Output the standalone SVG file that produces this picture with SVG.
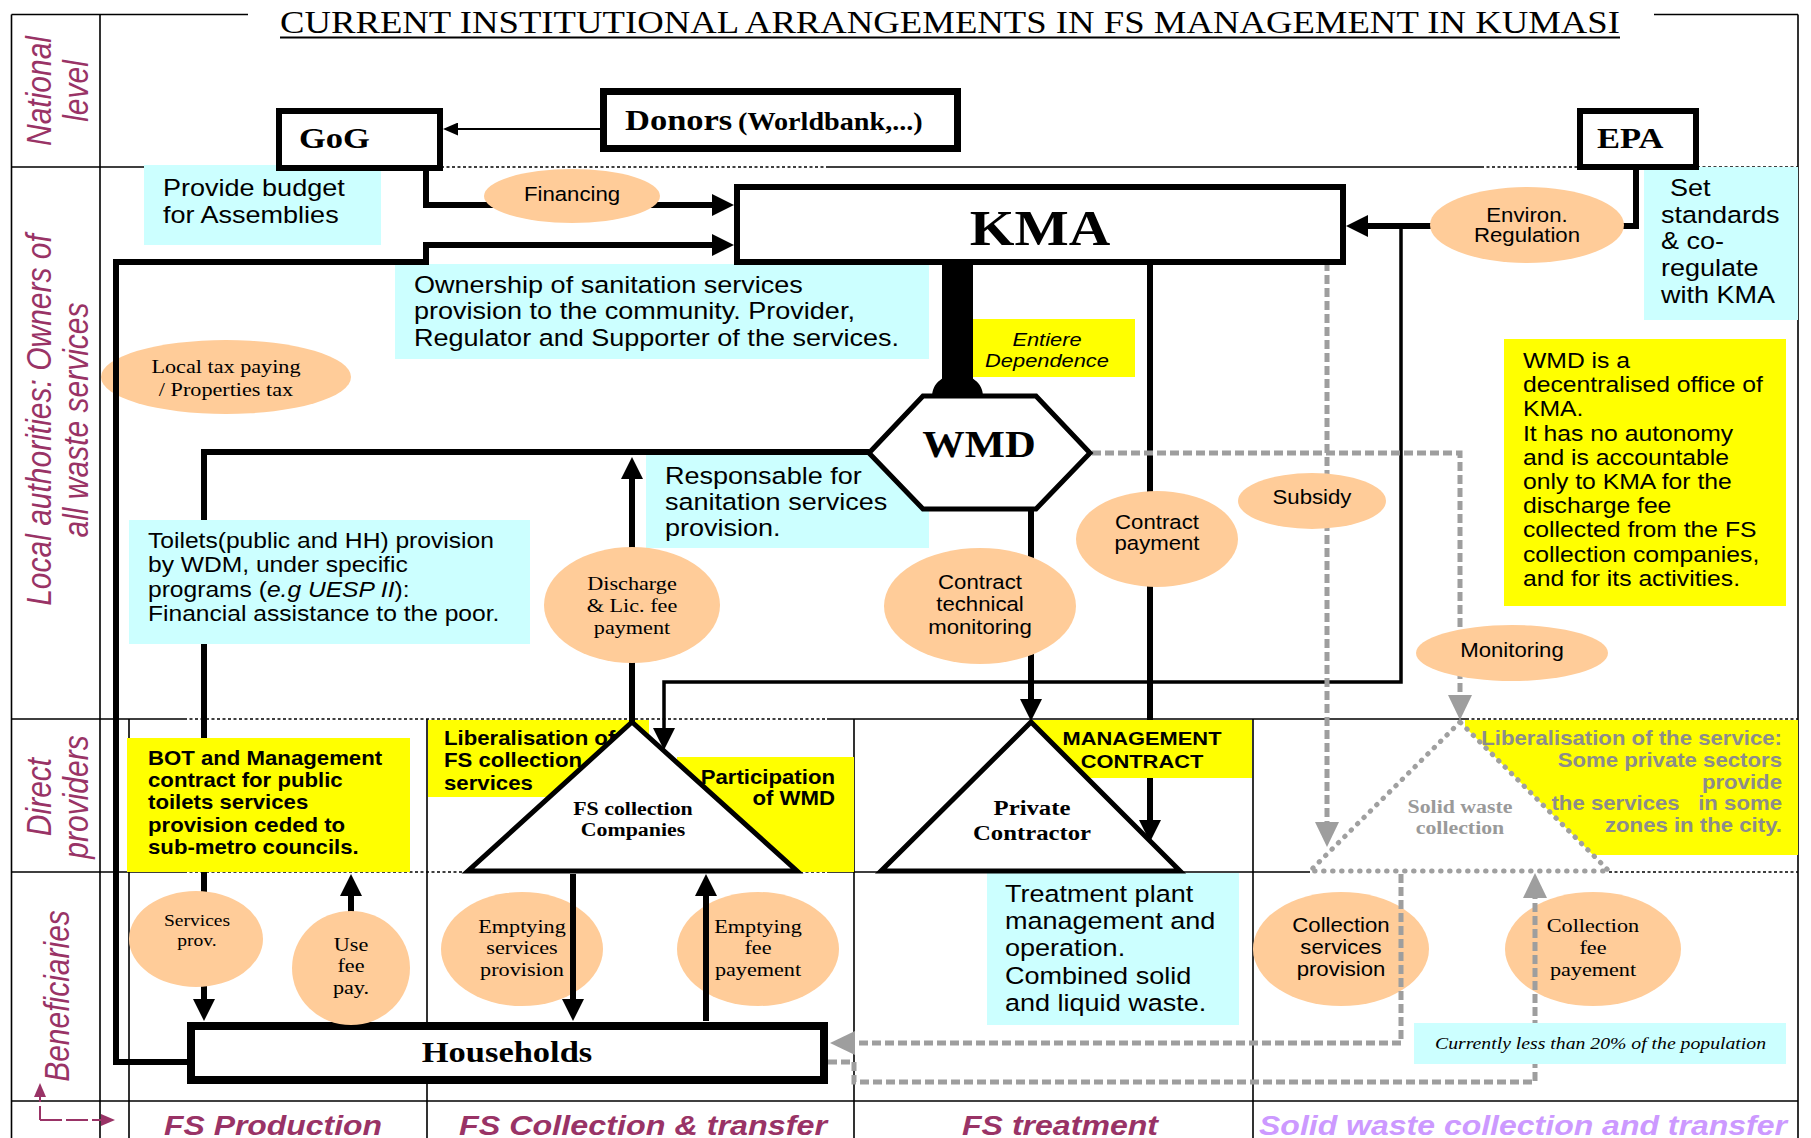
<svg xmlns="http://www.w3.org/2000/svg" width="1811" height="1138" viewBox="0 0 1811 1138">
<defs>
<style>
.gl{fill:none;stroke:#000;stroke-width:1.6}
.gd{fill:none;stroke:#000;stroke-width:1.6;stroke-dasharray:3 2.5}
.cy{fill:#CCFFFF}
.ye{fill:#FFFF00}
.el{fill:#FFCC99}
.nd{fill:#fff;stroke:#000}
.k{fill:none;stroke:#000;stroke-width:6}
.kg{fill:none;stroke:#9E9E9E;stroke-width:5;stroke-dasharray:9 4}
.s{font-family:"Liberation Sans",Arial,sans-serif;fill:#000}
.r{font-family:"Liberation Serif","Times New Roman",serif;fill:#000}
.b{font-weight:bold}
.i{font-style:italic}
.p{font-size:23.5px}
.e{font-size:19.3px}
.bt{font-size:19.3px;font-weight:bold}
.lbl{font-family:"Liberation Sans",Arial,sans-serif;font-style:italic;font-size:30px;fill:#993366}
.col{font-family:"Liberation Sans",Arial,sans-serif;font-style:italic;font-weight:bold;font-size:27px}
</style>
<marker id="ah" viewBox="0 0 22 22" refX="1" refY="11" markerWidth="22" markerHeight="22" markerUnits="userSpaceOnUse" orient="auto"><path d="M0,0 L22,11 L0,22 Z" fill="#000"/></marker>
<marker id="ahs" viewBox="0 0 15 13" refX="1" refY="6.5" markerWidth="15" markerHeight="13" markerUnits="userSpaceOnUse" orient="auto"><path d="M0,0 L15,6.5 L0,13 Z" fill="#000"/></marker>
<marker id="ahg" viewBox="0 0 25 24" refX="1" refY="12" markerWidth="25" markerHeight="24" markerUnits="userSpaceOnUse" orient="auto"><path d="M0,0 L25,12 L0,24 Z" fill="#9E9E9E"/></marker>
<marker id="ahp" viewBox="0 0 14 12" refX="1" refY="6" markerWidth="14" markerHeight="12" markerUnits="userSpaceOnUse" orient="auto"><path d="M0,0 L14,6 L0,12 Z" fill="#993366"/></marker>
</defs>
<rect x="0" y="0" width="1811" height="1138" fill="#fff"/>

<g id="grid">
<path class="gl" d="M11.5,14.5 H248 M1654,14.5 H1798 M11.5,14.5 V1138 M100,14.5 V1138 M1798,14.5 V1138"/>
<path class="gl" d="M11.5,167 H280 M827,167 H1481"/>
<path class="gd" d="M441,167 H827 M1481,167 H1580 M1697,167 H1798"/>
<path class="gl" d="M11.5,719 H184 M827,719 H1466"/>
<path class="gd" d="M184,719 H827 M1466,719 H1798"/>
<path class="gl" d="M11.5,872 H184 M827,872 H1310"/>
<path class="gd" d="M184,872 H827 M1609,872 H1798"/>
<path class="gl" d="M11.5,1101 H1798"/>
<path class="gl" d="M129,719 V1138 M427,719 V1138 M854,719 V1138 M1253,719 V1138"/>
</g>

<g id="title">
<text class="r" x="280" y="33" font-size="32" textLength="1340" lengthAdjust="spacingAndGlyphs">CURRENT INSTITUTIONAL ARRANGEMENTS IN FS MANAGEMENT IN KUMASI</text>
<path d="M280,37.5 H1620" stroke="#000" stroke-width="1.8"/>
</g>

<g id="row-labels">
<text class="lbl" text-anchor="middle" transform="translate(51,91) scale(1.15,1) rotate(-90)"><tspan x="0">National</tspan><tspan x="0" dy="32">level</tspan></text>
<text class="lbl" text-anchor="middle" transform="translate(51,420) scale(1.15,1) rotate(-90)"><tspan x="0">Local authorities: Owners of</tspan><tspan x="0" dy="32">all waste services</tspan></text>
<text class="lbl" text-anchor="middle" transform="translate(51,797) scale(1.15,1) rotate(-90)"><tspan x="0">Direct</tspan><tspan x="0" dy="32">providers</tspan></text>
<text class="lbl" text-anchor="middle" transform="translate(69,996) scale(1.15,1) rotate(-90)">Beneficiaries</text>
<path d="M40,1120 V1096" fill="none" stroke="#993366" stroke-width="2" stroke-dasharray="14 4" marker-end="url(#ahp)"/>
<path d="M40,1120 H102" fill="none" stroke="#993366" stroke-width="2" stroke-dasharray="22 4" marker-end="url(#ahp)"/>
</g>

<g id="col-labels">
<text class="col" x="164" y="1135" fill="#993366" textLength="218" lengthAdjust="spacingAndGlyphs">FS Production</text>
<text class="col" x="459" y="1135" fill="#993366" textLength="368" lengthAdjust="spacingAndGlyphs">FS Collection &amp; transfer</text>
<text class="col" x="962" y="1135" fill="#993366" textLength="196" lengthAdjust="spacingAndGlyphs">FS treatment</text>
<text class="col" x="1259" y="1135" fill="#CC99FF" textLength="528" lengthAdjust="spacingAndGlyphs">Solid waste collection and transfer</text>
</g>

<g id="note-budget">
<rect class="cy" x="144" y="165" width="237" height="80"/>
<text class="s p" transform="translate(163,196) scale(1.15,1)"><tspan x="0">Provide budget</tspan><tspan x="0" dy="26.7">for Assemblies</tspan></text>
</g>
<g id="note-ownership">
<rect class="cy" x="395" y="264" width="534" height="95"/>
<text class="s p" transform="translate(414,293) scale(1.15,1)"><tspan x="0">Ownership of sanitation services</tspan><tspan x="0" dy="26.5">provision to the community. Provider,</tspan><tspan x="0" dy="26.5">Regulator and Supporter of the services.</tspan></text>
</g>
<g id="note-responsable">
<rect class="cy" x="646" y="455" width="283" height="93"/>
<text class="s p" transform="translate(665,484) scale(1.15,1)"><tspan x="0">Responsable for</tspan><tspan x="0" dy="26">sanitation services</tspan><tspan x="0" dy="26">provision.</tspan></text>
</g>
<g id="note-standards">
<rect class="cy" x="1644" y="167" width="154" height="153"/>
<text class="s p" transform="translate(1661,196) scale(1.15,1)"><tspan x="7.8">Set</tspan><tspan x="0" dy="26.7">standards</tspan><tspan x="0" dy="26.7">&amp; co-</tspan><tspan x="0" dy="26.7">regulate</tspan><tspan x="0" dy="26.7">with KMA</tspan></text>
</g>
<g id="note-treatment">
<rect class="cy" x="987" y="873" width="252" height="152"/>
<text class="s p" transform="translate(1005,902) scale(1.15,1)"><tspan x="0">Treatment plant</tspan><tspan x="0" dy="27.2">management and</tspan><tspan x="0" dy="27.2">operation.</tspan><tspan x="0" dy="27.2">Combined solid</tspan><tspan x="0" dy="27.2">and liquid waste.</tspan></text>
</g>
<g id="note-dependence">
<rect class="ye" x="973" y="319" width="162" height="58"/>
<text class="s i" font-size="19" text-anchor="middle" transform="translate(1047,346) scale(1.15,1)"><tspan x="0">Entiere</tspan><tspan x="0" dy="21">Dependence</tspan></text>
</g>
<g id="note-wmd">
<rect class="ye" x="1504" y="339" width="282" height="267"/>
<text class="s" font-size="21.5" transform="translate(1523,368) scale(1.15,1)"><tspan x="0">WMD is a</tspan><tspan x="0" dy="24.2">decentralised office of</tspan><tspan x="0" dy="24.2">KMA.</tspan><tspan x="0" dy="24.2">It has no autonomy</tspan><tspan x="0" dy="24.2">and is accountable</tspan><tspan x="0" dy="24.2">only to KMA for the</tspan><tspan x="0" dy="24.2">discharge fee</tspan><tspan x="0" dy="24.2">collected from the FS</tspan><tspan x="0" dy="24.2">collection companies,</tspan><tspan x="0" dy="24.2">and for its activities.</tspan></text>
</g>
<g id="note-liberalisation-fs">
<rect class="ye" x="428" y="720" width="221" height="77"/>
<text class="s bt" transform="translate(444,745) scale(1.15,1)"><tspan x="0">Liberalisation of</tspan><tspan x="0" dy="22.5">FS collection</tspan><tspan x="0" dy="22.5">services</tspan></text>
</g>
<g id="note-participation">
<rect class="ye" x="677" y="757" width="177" height="115"/>
<text class="s bt" text-anchor="end" transform="translate(835,784) scale(1.15,1)"><tspan x="0">Participation</tspan><tspan x="0" dy="21">of WMD</tspan></text>
</g>
<g id="note-management">
<rect class="ye" x="1032" y="720" width="220" height="58"/>
<text class="s b" font-size="19" text-anchor="middle" transform="translate(1142,745) scale(1.15,1)"><tspan x="0">MANAGEMENT</tspan><tspan x="0" dy="23">CONTRACT</tspan></text>
</g>
<g id="note-liberalisation-sw">
<rect class="ye" x="1465" y="720" width="333" height="135"/>
<text class="s bt" text-anchor="end" fill="#8C8C8C" style="white-space:pre" xml:space="preserve" transform="translate(1782,745) scale(1.15,1)"><tspan x="0" fill="#8C8C8C">Liberalisation of the service:</tspan><tspan x="0" dy="21.8" fill="#8C8C8C">Some private sectors</tspan><tspan x="0" dy="21.8" fill="#8C8C8C">provide</tspan><tspan x="0" dy="21.8" fill="#8C8C8C">the services   in some</tspan><tspan x="0" dy="21.8" fill="#8C8C8C">zones in the city.</tspan></text>
</g>

<g id="fs-collection-companies">
<polygon points="632,722 468,871 797,871" fill="#fff" stroke="#000" stroke-width="5" stroke-linejoin="miter"/>
<text class="r b" font-size="19" text-anchor="middle" transform="translate(633,815) scale(1.15,1)"><tspan x="0">FS collection</tspan><tspan x="0" dy="21">Companies</tspan></text>
</g>
<g id="private-contractor">
<polygon points="1031,722 881,871 1180,871" fill="#fff" stroke="#000" stroke-width="5"/>
<text class="r b" font-size="21.5" text-anchor="middle" transform="translate(1032,815) scale(1.15,1)"><tspan x="0">Private</tspan><tspan x="0" dy="25">Contractor</tspan></text>
</g>
<g id="solid-waste-collection">
<polygon points="1460,722 1310,871 1609,871" fill="#fff" stroke="#A0A0A0" stroke-width="5" stroke-linecap="round" stroke-dasharray="0.5 8.5"/>
<text class="r b" font-size="19" text-anchor="middle" fill="#9A9A9A" transform="translate(1460,813) scale(1.15,1)"><tspan x="0" fill="#9A9A9A">Solid waste</tspan><tspan x="0" dy="21" fill="#9A9A9A">collection</tspan></text>
</g>

<g id="lbl-local-tax">
<ellipse class="el" cx="226" cy="377" rx="125" ry="37"/>
<text class="r e" text-anchor="middle" transform="translate(226,373) scale(1.15,1)"><tspan x="0">Local tax paying</tspan><tspan x="0" dy="23">/ Properties tax</tspan></text>
</g>
<g id="lbl-emptying-services">
<ellipse class="el" cx="522" cy="949" rx="81" ry="57"/>
<text class="r e" text-anchor="middle" transform="translate(522,933) scale(1.15,1)"><tspan x="0">Emptying</tspan><tspan x="0" dy="21.5">services</tspan><tspan x="0" dy="21.5">provision</tspan></text>
</g>
<g id="lbl-emptying-fee">
<ellipse class="el" cx="758" cy="949" rx="81" ry="57"/>
<text class="r e" text-anchor="middle" transform="translate(758,933) scale(1.15,1)"><tspan x="0">Emptying</tspan><tspan x="0" dy="21.5">fee</tspan><tspan x="0" dy="21.5">payement</tspan></text>
</g>
<g id="lbl-collection-services">
<ellipse class="el" cx="1341" cy="949" rx="88" ry="57"/>
<text class="s e" text-anchor="middle" transform="translate(1341,932) scale(1.15,1)"><tspan x="0">Collection</tspan><tspan x="0" dy="22">services</tspan><tspan x="0" dy="22">provision</tspan></text>
</g>
<g id="lbl-collection-fee">
<ellipse class="el" cx="1593" cy="949" rx="88" ry="57"/>
<text class="r e" text-anchor="middle" transform="translate(1593,932) scale(1.15,1)"><tspan x="0">Collection</tspan><tspan x="0" dy="22">fee</tspan><tspan x="0" dy="22">payement</tspan></text>
</g>

<g id="connectors">
<path d="M603,129 H457" fill="none" stroke="#000" stroke-width="2" marker-end="url(#ahs)"/>
<path class="k" d="M426,168 V205 H713" marker-end="url(#ah)"/>
<path class="k" d="M191,1062 H116 V262 H426 V245 H713" marker-end="url(#ah)"/>
<path class="k" d="M1636,167 V226 H1367" marker-end="url(#ah)"/>
<path d="M1401,226 V682 H664 V729" fill="none" stroke="#000" stroke-width="3.5" marker-end="url(#ah)"/>
<rect x="942" y="262" width="31" height="122" fill="#000"/>
<path d="M932,397 C932,382 944,375 957.5,375 C971,375 983,382 983,397 Z" fill="#000"/>
<path class="k" d="M869,452 H204 V1000" marker-end="url(#ah)"/>
<path class="k" d="M632,722 V478" marker-end="url(#ah)"/>
<path class="k" stroke-width="5" d="M1031,509 V700" marker-end="url(#ah)"/>
<path class="k" stroke-width="7" d="M1150,262 V720 M1150,778 V821" marker-end="url(#ah)"/>
<path class="k" stroke-width="5" d="M573,874 V1000" marker-end="url(#ah)"/>
<path class="k" stroke-width="5" d="M706,1021 V895" marker-end="url(#ah)"/>
<path class="k" stroke-width="5" d="M351,1021 V895" marker-end="url(#ah)"/>
<path class="kg" stroke-width="4.5" d="M1327,262 V823" marker-end="url(#ahg)"/>
<path class="kg" stroke-width="6" stroke-dasharray="8 4" d="M1092,453 H1460 V696" marker-end="url(#ahg)"/>
<path class="kg" d="M1401,874 V1043 H854" marker-end="url(#ahg)"/>
<path class="kg" d="M828,1062 H854 V1082 H1535 V897" marker-end="url(#ahg)"/>
</g>

<g id="note-toilets">
<rect class="cy" x="129" y="520" width="401" height="124"/>
<text class="s" font-size="21.4" transform="translate(148,548) scale(1.15,1)"><tspan x="0">Toilets(public and HH) provision</tspan><tspan x="0" dy="24.5">by WDM, under specific</tspan><tspan x="0" dy="24.5">programs (<tspan font-style="italic">e.g UESP II</tspan>):</tspan><tspan x="0" dy="24.5">Financial assistance to the poor.</tspan></text>
</g>
<g id="note-bot">
<rect class="ye" x="127" y="738" width="283" height="134"/>
<text class="s bt" transform="translate(148,765) scale(1.15,1)"><tspan x="0">BOT and Management</tspan><tspan x="0" dy="22.2">contract  for public</tspan><tspan x="0" dy="22.2">toilets services</tspan><tspan x="0" dy="22.2">provision ceded to</tspan><tspan x="0" dy="22.2">sub-metro councils.</tspan></text>
</g>
<g id="note-coverage">
<rect class="cy" x="1414" y="1023" width="372" height="41"/>
<text class="r i" x="1435" y="1049" font-size="16" textLength="331" lengthAdjust="spacingAndGlyphs">Currently less than 20% of the population</text>
</g>

<g id="gog">
<rect class="nd" x="279" y="111" width="161" height="57" stroke-width="6"/>
<text class="r b" font-size="30" transform="translate(299,148) scale(1.15,1)">GoG</text>
</g>
<g id="donors">
<rect class="nd" x="603.5" y="91.5" width="354" height="57" stroke-width="7"/>
<text class="r b" font-size="30" transform="translate(625,130) scale(1.15,1)">Donors</text>
<text class="r b" font-size="24.5" transform="translate(738,130) scale(1.15,1)">(Worldbank,...)</text>
</g>
<g id="epa">
<rect class="nd" x="1580" y="111" width="116" height="56" stroke-width="6"/>
<text class="r b" font-size="30" transform="translate(1597,148) scale(1.15,1)">EPA</text>
</g>
<g id="kma">
<rect class="nd" x="737" y="187" width="606" height="75" stroke-width="6"/>
<text class="r b" font-size="50" text-anchor="middle" transform="translate(1040,245) scale(1.15,1)">KMA</text>
</g>
<g id="wmd">
<polygon class="nd" points="869,453 923,396 1036,396 1090,453 1036,509 923,509" stroke-width="5"/>
<text class="r b" font-size="37" text-anchor="middle" transform="translate(979,457) scale(1.15,1)">WMD</text>
</g>
<g id="households">
<rect class="nd" x="191" y="1026" width="633" height="54" stroke-width="8"/>
<text class="r b" font-size="30" text-anchor="middle" transform="translate(507,1062) scale(1.15,1)">Households</text>
</g>

<g id="lbl-financing">
<ellipse class="el" cx="572" cy="196" rx="88" ry="27"/>
<text class="s e" text-anchor="middle" transform="translate(572,201) scale(1.15,1)">Financing</text>
</g>
<g id="lbl-environ">
<ellipse class="el" cx="1527" cy="225" rx="97" ry="38"/>
<text class="s e" text-anchor="middle" transform="translate(1527,222) scale(1.15,1)"><tspan x="0">Environ.</tspan><tspan x="0" dy="20">Regulation</tspan></text>
</g>
<g id="lbl-discharge">
<ellipse class="el" cx="632" cy="605" rx="88" ry="58"/>
<text class="r e" text-anchor="middle" transform="translate(632,590) scale(1.15,1)"><tspan x="0">Discharge</tspan><tspan x="0" dy="22">&amp; Lic. fee</tspan><tspan x="0" dy="22">payment</tspan></text>
</g>
<g id="lbl-contract-monitoring">
<ellipse class="el" cx="980" cy="606" rx="96" ry="58"/>
<text class="s e" text-anchor="middle" transform="translate(980,589) scale(1.15,1)"><tspan x="0">Contract</tspan><tspan x="0" dy="22">technical</tspan><tspan x="0" dy="23">monitoring</tspan></text>
</g>
<g id="lbl-contract-payment">
<ellipse class="el" cx="1157" cy="539" rx="81" ry="48"/>
<text class="s e" text-anchor="middle" transform="translate(1157,529) scale(1.15,1)"><tspan x="0">Contract</tspan><tspan x="0" dy="21">payment</tspan></text>
</g>
<g id="lbl-subsidy">
<ellipse class="el" cx="1312" cy="501" rx="74" ry="28"/>
<text class="s e" text-anchor="middle" transform="translate(1312,504) scale(1.15,1)">Subsidy</text>
</g>
<g id="lbl-monitoring">
<ellipse class="el" cx="1512" cy="653" rx="96" ry="28"/>
<text class="s e" text-anchor="middle" transform="translate(1512,657) scale(1.15,1)">Monitoring</text>
</g>
<g id="lbl-services-prov">
<ellipse class="el" cx="196" cy="939" rx="67" ry="48"/>
<text class="r" font-size="17" text-anchor="middle" transform="translate(197,926) scale(1.15,1)"><tspan x="0">Services</tspan><tspan x="0" dy="20">prov.</tspan></text>
</g>
<g id="lbl-use-fee">
<ellipse class="el" cx="351" cy="968" rx="59" ry="57"/>
<text class="r e" text-anchor="middle" transform="translate(351,951) scale(1.15,1)"><tspan x="0">Use</tspan><tspan x="0" dy="21">fee</tspan><tspan x="0" dy="22">pay.</tspan></text>
</g>
</svg>
